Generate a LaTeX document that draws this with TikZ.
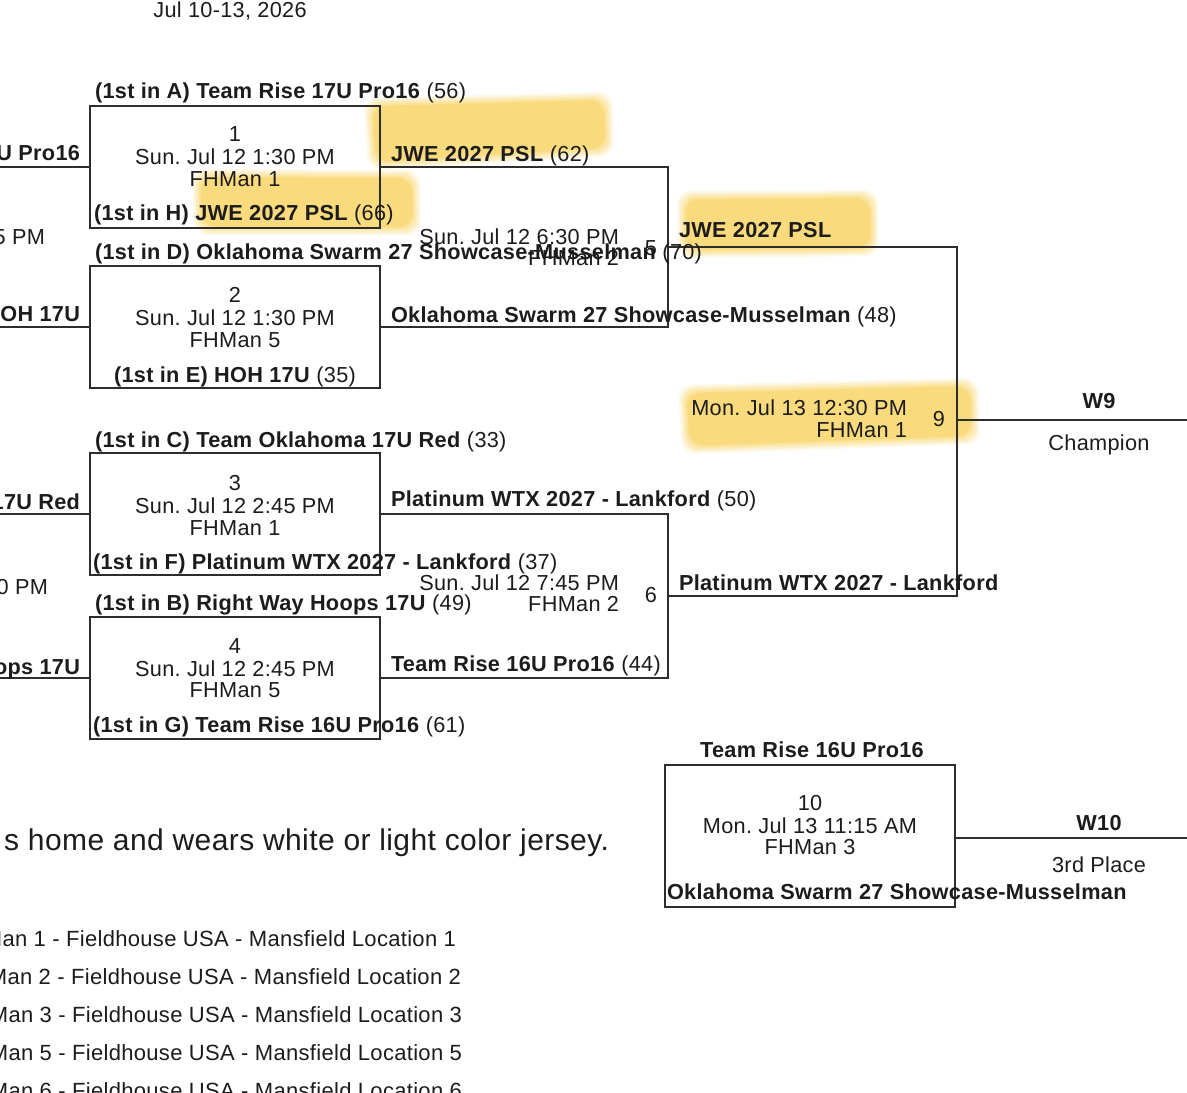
\documentclass[tikz,border=0pt]{standalone}
\usepackage{fontspec}
\setmainfont{Liberation Sans}[LetterSpace=1.4]
\usetikzlibrary{calc}
\definecolor{ink}{RGB}{28,28,30}
\definecolor{wirec}{RGB}{45,45,45}
\definecolor{hlc}{RGB}{247,200,55}
% soft highlighter stroke over a quadrilateral (corners TL, TR, BR, BL)
\newcommand\marker[4]{%
  \foreach \g/\o in {8/0.12,6/0.14,4/0.16,2/0.2,0/0.3} {%
    \fill[hlc, fill opacity=\o, rounded corners=14pt]
      ($(#1)+(-\g,-\g)$) -- ($(#2)+(\g,-\g)$) -- ($(#3)+(\g,\g)$) -- ($(#4)+(-\g,\g)$) -- cycle;}}
\begin{document}
\frenchspacing
\begin{tikzpicture}[x=1pt,y=-1pt]
\tikzset{
  every node/.style={inner sep=0pt, outer sep=0pt, text height=15.5pt, text depth=0pt,
    text=ink, font=\fontsize{21.7}{26}\selectfont},
  bx/.style={font=\fontsize{21.7}{26}\selectfont\bfseries},
  wire/.style={draw=wirec, line width=1.8pt},
  matchbox/.style={draw=wirec, line width=1.8pt, minimum width=290pt, minimum height=122pt},
  note/.style={font=\fontsize{30}{34}\selectfont, text height=21.5pt},
  legend/.style={font=\fontsize{22}{26}\selectfont, text height=16pt},
}
\path[use as bounding box] (0,0) rectangle (1187,1093);
\clip (0,0) rectangle (1187,1093);
\fill[white] (0,0) rectangle (1187,1093);

% highlighter marks
\marker{372,106}{604,100}{606,148}{376,162}
\marker{200,177}{412,178}{413,227}{202,227}
\marker{685,199}{870,198}{871,248}{686,250}
\marker{686,393}{970,386}{972,436}{690,446}

% match boxes
\node[matchbox] (m1) at (235,167) {};
\node[matchbox] (m2) at (235,327) {};
\node[matchbox] (m3) at (235,514) {};
\node[matchbox] (m4) at (235,678) {};
\node[matchbox, minimum height=142pt] (m10) at (810,836) {};

% bracket connectors
\coordinate (in1) at (-10,167);
\coordinate (in2) at (-10,327);
\coordinate (in3) at (-10,514);
\coordinate (in4) at (-10,678);
\coordinate (b5) at (668,247);
\coordinate (b6) at (668,596);
\coordinate (b9) at (957,420);
\coordinate (w9) at (1195,420);
\coordinate (w10) at (1195,838);
\draw[wire] (in1) -- (m1.west);
\draw[wire] (in2) -- (m2.west);
\draw[wire] (in3) -- (m3.west);
\draw[wire] (in4) -- (m4.west);
\draw[wire] (m1.east) -| (b5) |- (m2.east);
\draw[wire] (m3.east) -| (b6) |- (m4.east);
\draw[wire] (b5) -| (b9) |- (b6);
\draw[wire] (b9) -- (w9);
\draw[wire] (m10.east |- w10) -- (w10);

% header
\node (date) at (230,10) {Jul 10-13, 2026};

% earlier round, cut at the left edge
\node[bx, anchor=east] (p1) at (80,153) {Team Rise 17U Pro16};
\node[anchor=east] (pt1) at (45,237) {5 PM};
\node[bx, anchor=east] (p2) at (80,314) {HOH 17U};
\node[bx, anchor=east] (p3) at (80,502) {Team Oklahoma 17U Red};
\node[anchor=east] (pt2) at (48,587) {0 PM};
\node[bx, anchor=east] (p4) at (80,667) {Right Way Hoops 17U};

% match 1
\node[anchor=west] (m1a) at (95,91) {\textbf{(1st in A) Team Rise 17U Pro16} (56)};
\node (m1n) at (235,134) {1};
\node (m1d) at (235,157) {Sun. Jul 12 1:30 PM};
\node (m1c) at (235,179) {FHMan 1};
\node[anchor=west] (m1b) at (94,213) {\textbf{(1st in H) JWE 2027 PSL} (66)};

% match 2
\node[anchor=west] (m2a) at (95,252) {\textbf{(1st in D) Oklahoma Swarm 27 Showcase-Musselman} (70)};
\node (m2n) at (235,295) {2};
\node (m2d) at (235,318) {Sun. Jul 12 1:30 PM};
\node (m2c) at (235,340) {FHMan 5};
\node (m2b) at (235,375) {\textbf{(1st in E) HOH 17U} (35)};

% match 3
\node[anchor=west] (m3a) at (95,440) {\textbf{(1st in C) Team Oklahoma 17U Red} (33)};
\node (m3n) at (235,483) {3};
\node (m3d) at (235,506) {Sun. Jul 12 2:45 PM};
\node (m3c) at (235,528) {FHMan 1};
\node[anchor=west] (m3b) at (93,562) {\textbf{(1st in F) Platinum WTX 2027 - Lankford} (37)};

% match 4
\node[anchor=west] (m4a) at (95,603) {\textbf{(1st in B) Right Way Hoops 17U} (49)};
\node (m4n) at (235,646) {4};
\node (m4d) at (235,669) {Sun. Jul 12 2:45 PM};
\node (m4c) at (235,690) {FHMan 5};
\node[anchor=west] (m4b) at (93,725) {\textbf{(1st in G) Team Rise 16U Pro16} (61)};

% match 5
\node[anchor=west] (m5a) at (391,154) {\textbf{JWE 2027 PSL} (62)};
\node[anchor=east] (m5d) at (619,237) {Sun. Jul 12 6:30 PM};
\node[anchor=east] (m5c) at (619,258) {FHMan 2};
\node (m5n) at (651,248) {5};
\node[anchor=west] (m5b) at (391,315) {\textbf{Oklahoma Swarm 27 Showcase-Musselman} (48)};

% match 6
\node[anchor=west] (m6a) at (391,499) {\textbf{Platinum WTX 2027 - Lankford} (50)};
\node[anchor=east] (m6d) at (619,583) {Sun. Jul 12 7:45 PM};
\node[anchor=east] (m6c) at (619,604) {FHMan 2};
\node (m6n) at (651,595) {6};
\node[anchor=west] (m6b) at (391,664) {\textbf{Team Rise 16U Pro16} (44)};

% match 9 (final)
\node[bx, anchor=west] (m9a) at (679,230) {JWE 2027 PSL};
\node[anchor=east] (m9d) at (907,408) {Mon. Jul 13 12:30 PM};
\node[anchor=east] (m9c) at (907,430) {FHMan 1};
\node (m9n) at (939,419) {9};
\node[bx, anchor=west] (m9b) at (679,583) {Platinum WTX 2027 - Lankford};
\node[bx] (w9l) at (1099,401) {W9};
\node (w9t) at (1099,443) {Champion};

% match 10 (third place)
\node[bx] (m10a) at (812,750) {Team Rise 16U Pro16};
\node (m10n) at (810,803) {10};
\node (m10d) at (810,826) {Mon. Jul 13 11:15 AM};
\node (m10c) at (810,847) {FHMan 3};
\node[bx, anchor=west] (m10b) at (667,892) {Oklahoma Swarm 27 Showcase-Musselman};
\node[bx] (w10l) at (1099,823) {W10};
\node (w10t) at (1099,865) {3rd Place};

% notes
\node[note, anchor=east] (n1) at (609,840) {s home and wears white or light color jersey.};
\node[legend, anchor=east] (l1) at (456,938) {FHMan 1 - Fieldhouse USA - Mansfield Location 1};
\node[legend, anchor=east] (l2) at (461,976) {FHMan 2 - Fieldhouse USA - Mansfield Location 2};
\node[legend, anchor=east] (l3) at (462,1014) {FHMan 3 - Fieldhouse USA - Mansfield Location 3};
\node[legend, anchor=east] (l5) at (462,1052) {FHMan 5 - Fieldhouse USA - Mansfield Location 5};
\node[legend, anchor=east] (l6) at (462,1090) {FHMan 6 - Fieldhouse USA - Mansfield Location 6};
\end{tikzpicture}
\end{document}
